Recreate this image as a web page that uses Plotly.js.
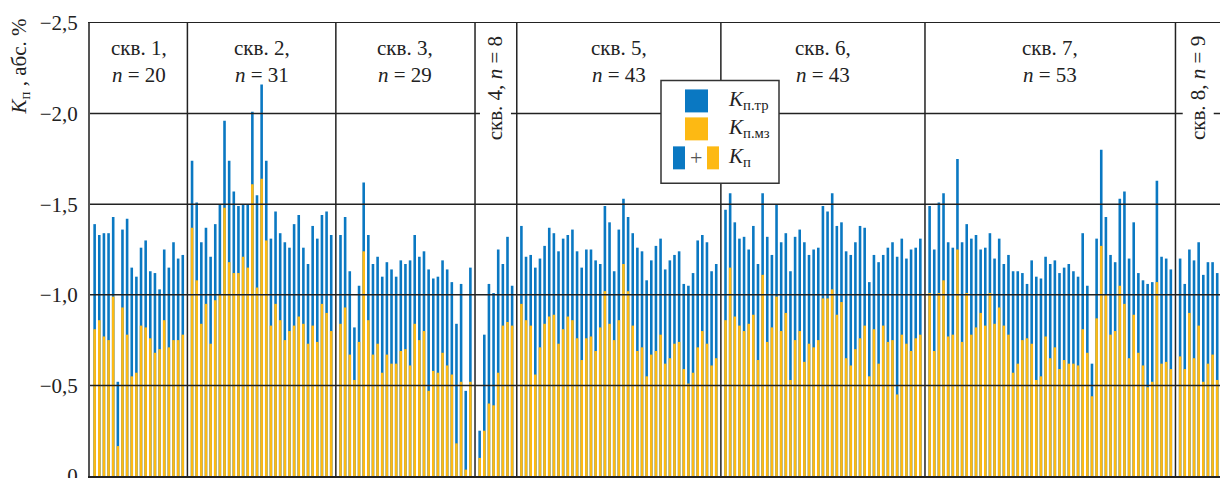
<!DOCTYPE html>
<html>
<head>
<meta charset="utf-8">
<script src="https://cdn.plot.ly/plotly-3.0.1.min.js"></script>
<style>html,body{margin:0;padding:0;background:#fff;}#chart{width:1220px;height:478px;}</style>
</head>
<body>
<div id="chart"></div>
<script>
// ---- Data (K_п total and K_п.мз component per well, abs. %) ----
const wellNames = ['скв. 1', 'скв. 2', 'скв. 3', 'скв. 4', 'скв. 5', 'скв. 6', 'скв. 7', 'скв. 8'];
const wellCounts = [20, 31, 29, 8, 43, 43, 53, 9];

const kp_w1 = [-1.39,-1.33,-1.34,-1.34,-1.43,-0.52,-1.36,-1.42,-1.15,-1.10,-1.26,-1.30,-1.13,-1.12,-1.03,-1.25,-1.15,-1.29,-1.20,-1.22];
const mz_w1 = [-0.81,-0.86,-0.77,-0.75,-0.99,-0.165,-0.93,-0.78,-0.55,-0.57,-0.83,-0.82,-0.76,-0.68,-0.70,-0.86,-0.71,-0.75,-0.75,-0.78];

const kp_w2 = [-1.74,-1.51,-1.29,-1.37,-1.21,-1.39,-1.50,-1.96,-1.74,-1.57,-1.49,-1.50,-1.50,-2.01,-1.55,-2.16,-1.74,-1.31,-1.46,-1.34,-1.29,-1.26,-1.39,-1.44,-1.26,-1.17,-1.38,-1.31,-1.44,-1.46,-1.33];
const mz_w2 = [-1.37,-1.08,-0.84,-0.95,-0.73,-0.97,-1.00,-1.48,-1.18,-1.12,-1.12,-1.21,-1.15,-1.61,-1.04,-1.64,-1.30,-0.83,-0.95,-0.86,-0.75,-0.80,-0.83,-0.88,-0.84,-0.73,-0.83,-0.74,-0.95,-0.90,-0.80];

const kp_w3 = [-1.33,-1.43,-1.13,-0.82,-1.05,-1.62,-1.33,-1.17,-1.21,-1.10,-1.18,-1.14,-1.10,-1.19,-1.17,-1.19,-1.33,-1.21,-1.24,-1.14,-1.09,-1.10,-1.19,-1.14,-1.07,-0.84,-1.06,-0.47,-1.15];
const mz_w3 = [-0.84,-0.93,-0.67,-0.53,-0.74,-1.24,-0.86,-0.67,-0.73,-0.57,-0.67,-0.62,-0.62,-0.69,-0.70,-0.61,-0.84,-0.75,-0.80,-0.47,-0.58,-0.57,-0.68,-0.61,-0.56,-0.18,-0.52,-0.035,-0.52];

const kp_w4 = [-0.25,-0.78,-1.06,-1.01,-1.25,-1.17,-1.32,-1.05];
const mz_w4 = [-0.10,-0.25,-0.40,-0.39,-0.57,-0.83,-0.85,-0.83];

const kp_w5 = [-1.38,-1.21,-1.22,-1.15,-1.20,-1.27,-1.37,-1.34,-1.24,-1.31,-1.33,-1.36,-1.24,-1.15,-1.25,-1.25,-1.19,-1.17,-1.49,-1.40,-1.13,-1.36,-1.53,-1.43,-1.34,-1.26,-1.24,-1.08,-1.19,-1.27,-1.31,-1.14,-1.19,-1.22,-1.24,-1.06,-1.05,-1.12,-1.30,-1.33,-1.29,-1.13,-1.17];
const mz_w5 = [-0.95,-0.86,-0.83,-0.56,-0.71,-0.84,-0.88,-0.89,-0.73,-0.81,-0.88,-0.86,-0.76,-0.64,-0.76,-0.77,-0.69,-0.82,-1.02,-0.84,-0.75,-0.86,-1.17,-1.02,-0.83,-0.69,-0.71,-0.55,-0.67,-0.69,-0.78,-0.62,-0.65,-0.73,-0.74,-0.59,-0.51,-0.57,-0.71,-0.80,-0.73,-0.61,-0.65];

const kp_w6 = [-1.47,-1.56,-1.40,-1.31,-1.32,-1.25,-1.38,-1.17,-1.56,-1.32,-1.22,-1.50,-1.29,-1.34,-1.13,-1.32,-1.36,-1.29,-1.22,-1.25,-1.26,-1.49,-1.46,-1.56,-1.38,-1.40,-1.24,-1.22,-1.29,-1.38,-1.37,-1.07,-1.22,-1.18,-1.22,-1.26,-1.29,-1.21,-1.31,-1.20,-1.25,-1.26,-1.31];
const mz_w6 = [-0.86,-1.15,-0.88,-0.83,-0.80,-0.84,-0.89,-0.64,-1.11,-0.74,-0.82,-0.99,-0.80,-0.90,-0.53,-0.75,-0.80,-0.63,-0.73,-0.71,-0.75,-0.98,-0.98,-1.03,-0.89,-0.96,-0.65,-0.61,-0.70,-0.76,-0.83,-0.55,-0.81,-0.62,-0.83,-0.74,-0.75,-0.45,-0.78,-0.73,-0.69,-0.76,-0.78];

const kp_w7 = [-1.49,-1.25,-1.51,-1.56,-1.29,-1.26,-1.75,-1.29,-1.39,-1.31,-1.33,-1.25,-1.26,-1.34,-1.20,-1.31,-1.17,-1.22,-1.13,-1.13,-1.12,-1.06,-1.19,-1.10,-1.09,-1.21,-1.17,-1.19,-1.12,-1.15,-1.17,-1.13,-1.10,-1.34,-1.05,-0.62,-1.31,-1.80,-1.43,-1.22,-1.18,-1.53,-1.57,-1.20,-1.40,-1.12,-1.08,-1.06,-1.07,-1.63,-1.21,-1.20,-1.14];
const mz_w7 = [-1.01,-0.69,-1.01,-1.08,-0.77,-0.78,-1.25,-0.74,-1.01,-0.78,-0.82,-0.90,-0.83,-1.01,-0.84,-0.93,-0.83,-0.78,-0.57,-0.62,-0.75,-0.76,-0.73,-0.53,-0.55,-0.77,-0.65,-0.71,-0.59,-0.64,-0.62,-0.62,-0.61,-0.81,-0.68,-0.44,-0.87,-1.27,-1.00,-0.78,-0.80,-1.05,-0.95,-0.65,-0.89,-0.68,-0.61,-0.49,-0.52,-1.07,-0.62,-0.63,-0.59];

const kp_w8 = [-1.20,-1.06,-1.25,-1.19,-1.29,-1.11,-1.18,-1.18,-1.12];
const mz_w8 = [-0.66,-0.59,-0.90,-0.65,-0.83,-0.52,-0.62,-0.67,-0.53];

const yTickVals = [-2.5, -2.0, -1.5, -1.0, -0.5, 0];
const yTickText = ['\u22122,5', '\u22122,0', '\u22121,5', '\u22121,0', '\u22120,5', '0'];
const yTitle = '<i>K</i><sub>п</sub> , абс. %';
const legendLabels = ['<i>K</i><sub>п.тр</sub>', '<i>K</i><sub>п.мз</sub>', '<i>K</i><sub>п</sub>'];

// ---- Build positions (each well gets half-slot padding on both sides) ----
const kpWells = [kp_w1, kp_w2, kp_w3, kp_w4, kp_w5, kp_w6, kp_w7, kp_w8];
const mzWells = [mz_w1, mz_w2, mz_w3, mz_w4, mz_w5, mz_w6, mz_w7, mz_w8];
const xs = [], kpAll = [], mzAll = [], sections = [];
let start = 0;
kpWells.forEach((arr, k) => {
  arr.forEach((v, j) => { xs.push(start + 1 + j); kpAll.push(v); mzAll.push(mzWells[k][j]); });
  sections.push({start: start, end: start + arr.length + 1});
  start += arr.length + 1;
});
const xMax = start - 0.4;

const BLUE = '#0a78c2', YELLOW = '#fdb913', INK = '#222';
const FONT = 'Liberation Serif, Times New Roman, serif';

// pixel helpers for layout-only positioning (plot area 90..1220 x 22.5..476)
const L = 90, R = 1220, T = 22.5, B = 476;
const px = x => (x - L) / (R - L);
const py = y => (B - y) / (B - T);

const traces = [
  {type: 'bar', x: xs, y: kpAll, name: 'Kп', width: 0.56, marker: {color: BLUE, line: {width: 0}}, showlegend: false, hoverinfo: 'y'},
  {type: 'bar', x: xs, y: mzAll, name: 'Kп.мз', width: 0.56, marker: {color: YELLOW, line: {width: 0}}, showlegend: false, hoverinfo: 'y'}
];

const shapes = [];
// horizontal grid lines
yTickVals.forEach(v => {
  if (v === 0 || v === -2.5) return;
  shapes.push({type: 'line', xref: 'x', yref: 'y', x0: 0, x1: xMax, y0: v, y1: v, line: {color: INK, width: 1.5}, layer: 'above'});
});
// well dividers
sections.forEach((s, k) => {
  if (k === sections.length - 1) return;
  shapes.push({type: 'line', xref: 'x', yref: 'paper', x0: s.end, x1: s.end, y0: 0, y1: 1, line: {color: INK, width: 1.5}, layer: 'above'});
});
// manual legend
shapes.push({type: 'rect', xref: 'paper', yref: 'paper', x0: px(661), x1: px(779), y0: py(183), y1: py(80), fillcolor: '#fff', line: {color: '#333', width: 1.5}, layer: 'above'});
shapes.push({type: 'rect', xref: 'paper', yref: 'paper', x0: px(685), x1: px(708), y0: py(112), y1: py(89), fillcolor: BLUE, line: {width: 0}, layer: 'above'});
shapes.push({type: 'rect', xref: 'paper', yref: 'paper', x0: px(685), x1: px(708), y0: py(140), y1: py(117), fillcolor: YELLOW, line: {width: 0}, layer: 'above'});
shapes.push({type: 'rect', xref: 'paper', yref: 'paper', x0: px(673), x1: px(685), y0: py(169), y1: py(146), fillcolor: BLUE, line: {width: 0}, layer: 'above'});
shapes.push({type: 'rect', xref: 'paper', yref: 'paper', x0: px(707), x1: px(719), y0: py(169), y1: py(146), fillcolor: YELLOW, line: {width: 0}, layer: 'above'});

const annotations = [];
sections.forEach((s, k) => {
  const cx = (s.start + s.end) / 2;
  if (wellCounts[k] < 12) {
    annotations.push({xref: 'x', yref: 'paper', x: cx, y: py(88), text: wellNames[k] + ', <i>n</i> = ' + wellCounts[k],
      textangle: -90, showarrow: false, xanchor: 'center', yanchor: 'middle', bgcolor: '#fff', borderpad: 3,
      font: {family: FONT, size: 21, color: INK}});
  } else {
    annotations.push({xref: 'x', yref: 'paper', x: cx, y: py(61.5), text: wellNames[k] + ',<br><i>n</i> = ' + wellCounts[k],
      showarrow: false, xanchor: 'center', yanchor: 'middle', font: {family: FONT, size: 21, color: INK}});
  }
});
// legend labels
[100, 128, 157].forEach((yy, i) => {
  annotations.push({xref: 'paper', yref: 'paper', x: px(726), y: py(yy), text: legendLabels[i], showarrow: false,
    xanchor: 'left', yanchor: 'middle', font: {family: FONT, size: 21, color: INK}});
});
annotations.push({xref: 'paper', yref: 'paper', x: px(696), y: py(157), text: '+', showarrow: false,
  xanchor: 'center', yanchor: 'middle', font: {family: FONT, size: 22, color: '#555'}});
// y-axis title
annotations.push({xref: 'paper', yref: 'paper', x: px(20), y: py(66), text: yTitle, textangle: -90, showarrow: false,
  xanchor: 'center', yanchor: 'middle', font: {family: FONT, size: 21, color: INK}});

const layout = {
  width: 1220, height: 478,
  margin: {l: L, r: 1220 - R, t: T, b: 478 - B, pad: 0},
  paper_bgcolor: '#fff', plot_bgcolor: '#fff',
  barmode: 'overlay',
  showlegend: false,
  xaxis: {range: [0, xMax], showticklabels: false, ticks: '', showgrid: false, zeroline: false,
    showline: true, mirror: true, linecolor: INK, linewidth: 1.5},
  yaxis: {range: [0, -2.5], tickvals: yTickVals, ticktext: yTickText, ticks: '', showgrid: false, zeroline: false,
    showline: true, linecolor: '#555', linewidth: 2, ticklabelstandoff: 6, ticklabeloverflow: 'allow',
    tickfont: {family: FONT, size: 21, color: INK}},
  shapes: shapes,
  annotations: annotations,
  font: {family: FONT}
};

Plotly.newPlot('chart', traces, layout, {displayModeBar: false, staticPlot: true});
</script>
</body>
</html>
